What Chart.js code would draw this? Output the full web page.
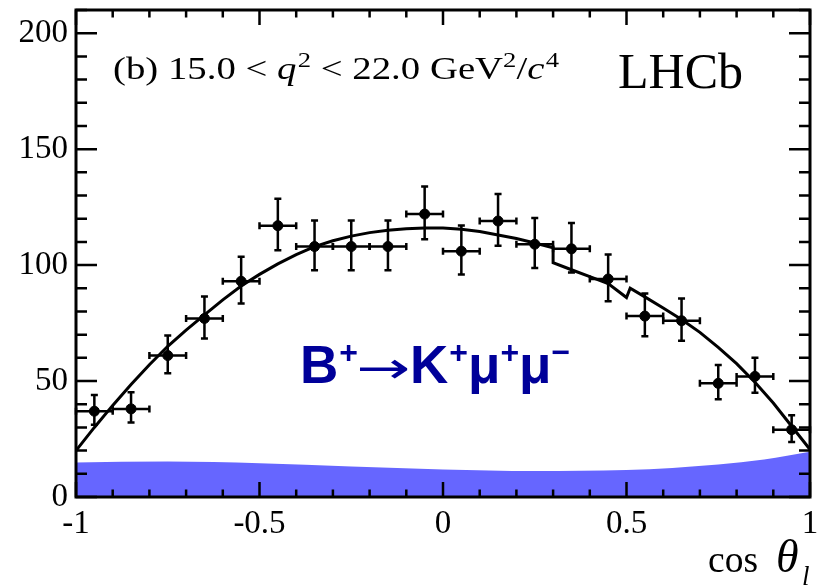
<!DOCTYPE html>
<html>
<head>
<meta charset="utf-8">
<script src="https://cdn.jsdelivr.net/npm/chart.js@4.4.1/dist/chart.umd.min.js"></script>
<style>
  html, body { margin: 0; padding: 0; background: #fff; }
</style>
</head>
<body>
<canvas id="cosThetaChart" width="821" height="587"></canvas>
<script>
// data
const binCentres = [-0.95, -0.85, -0.75, -0.65, -0.55, -0.45, -0.35, -0.25, -0.15, -0.05,
                    0.05, 0.15, 0.25, 0.35, 0.45, 0.55, 0.65, 0.75, 0.85, 0.95];
const binHalfWidth = 0.05;
const counts = [37, 38, 61, 77, 93, 117, 108, 108, 108, 122,
                106, 119, 109, 107, 94, 78, 76, 49, 52, 29];
const errUp = [7.0, 7.2, 8.6, 9.5, 10.6, 11.6, 11.2, 11.2, 11.2, 11.9,
               11.1, 11.7, 11.3, 11.2, 10.6, 9.7, 9.6, 7.9, 8.1, 6.3];
const errDown = [5.8, 5.9, 7.6, 8.6, 9.6, 10.6, 10.2, 10.2, 10.2, 10.9,
                 10.1, 10.7, 10.3, 10.2, 9.6, 8.7, 8.6, 6.9, 7.1, 5.3];

const fitX = [-1, -0.95, -0.9, -0.85, -0.8, -0.75, -0.7, -0.65, -0.6, -0.55, -0.5, -0.45, -0.4,
              -0.35, -0.3, -0.25, -0.2, -0.15, -0.1, -0.05, 0, 0.05, 0.1, 0.15, 0.2, 0.25,
              0.3, 0.3, 0.35, 0.4, 0.45, 0.5, 0.51, 0.55, 0.6, 0.65, 0.7, 0.75, 0.8, 0.85,
              0.9, 0.95, 1];
const fitY = [20, 30, 39.5, 48.5, 57, 65, 72, 78.5, 85, 91, 96, 100.5, 104.5,
              108, 110.5, 112.5, 114, 115, 115.7, 116, 116, 115.5, 114.5, 113, 111.5, 109.5,
              107.5, 101, 98, 95, 92, 86, 90, 86.3, 81.5, 76.5, 71, 64.5, 57.5, 49.5,
              40.5, 30.5, 20.5];

const bkgX = [-1, -0.75, -0.5, -0.25, 0, 0.25, 0.5, 0.75, 0.875, 1];
const bkgY = [14.9, 15.3, 14.6, 13.2, 11.9, 11.2, 11.6, 14.0, 16.2, 19.5];

const xTickValues = [-1, -0.5, 0, 0.5, 1];
const yTickValues = [0, 50, 100, 150, 200];

const serif = '"Liberation Serif", "Times New Roman", serif';
const sans = '"Liberation Sans", Arial, sans-serif';

// draw a list of text runs one after the other; a run may pin its own x
// or be squeezed / stretched to a given width
function drawRuns(ctx, x, y, runs) {
  runs.forEach(r => {
    if (r.x !== undefined) x = r.x;
    ctx.font = r.font;
    const w = ctx.measureText(r.t).width;
    if (r.w) {
      ctx.save();
      ctx.translate(x, y + (r.dy || 0));
      ctx.scale(r.w / w, 1);
      ctx.fillText(r.t, 0, 0);
      ctx.restore();
      x += r.w + (r.gap || 0);
    } else {
      ctx.fillText(r.t, x, y + (r.dy || 0));
      x += w + (r.gap || 0);
    }
  });
  return x;
}

function runsWidth(ctx, runs) {
  let w = 0;
  runs.forEach(r => { ctx.font = r.font; w += ctx.measureText(r.t).width + (r.gap || 0); });
  return w;
}

const decorations = {
  id: "decorations",
  afterDatasetsDraw(chart) {
    const ctx = chart.ctx;
    const xs = chart.scales.x, ys = chart.scales.y;
    const a = chart.chartArea;
    ctx.save();

    // error bars
    ctx.strokeStyle = "#000";
    ctx.lineWidth = 2.5;
    const cap = 3.5;
    binCentres.forEach((c, i) => {
      const px = xs.getPixelForValue(c);
      const py = ys.getPixelForValue(counts[i]);
      const x0 = xs.getPixelForValue(c - binHalfWidth);
      const x1 = xs.getPixelForValue(c + binHalfWidth);
      const yTop = ys.getPixelForValue(counts[i] + errUp[i]);
      const yBot = ys.getPixelForValue(counts[i] - errDown[i]);
      ctx.beginPath();
      ctx.moveTo(x0, py); ctx.lineTo(x1, py);
      ctx.moveTo(x0, py - cap); ctx.lineTo(x0, py + cap);
      ctx.moveTo(x1, py - cap); ctx.lineTo(x1, py + cap);
      ctx.moveTo(px, yTop); ctx.lineTo(px, yBot);
      ctx.moveTo(px - cap, yTop); ctx.lineTo(px + cap, yTop);
      ctx.moveTo(px - cap, yBot); ctx.lineTo(px + cap, yBot);
      ctx.stroke();
    });

    // ticks inside the frame, on all four sides
    ctx.lineWidth = 2.5;
    ctx.beginPath();
    for (let k = -10; k <= 10; k++) {
      const px = xs.getPixelForValue(k / 10);
      const len = (k % 5 === 0) ? 15 : 7.5;
      ctx.moveTo(px, a.bottom); ctx.lineTo(px, a.bottom - len);
      ctx.moveTo(px, a.top); ctx.lineTo(px, a.top + len);
    }
    for (let v = 0; v <= 210; v += 10) {
      const py = ys.getPixelForValue(v);
      const len = (v % 50 === 0) ? 21 : 11;
      ctx.moveTo(a.left, py); ctx.lineTo(a.left + len, py);
      ctx.moveTo(a.right, py); ctx.lineTo(a.right - len, py);
    }
    ctx.stroke();

    // frame
    ctx.lineWidth = 3;
    ctx.strokeRect(a.left, a.top, a.right - a.left, a.bottom - a.top);

    // texts
    ctx.fillStyle = "#000";
    ctx.textBaseline = "alphabetic";
    ctx.textAlign = "left";
    const F = "32px " + serif, I = "italic 32px " + serif, S = "22px " + serif;
    const title = [
      { t: "(b) 15.0 < ", font: F },
      { t: "q", font: I, gap: 1 },
      { t: "2", font: S, dy: -12 },
      { t: " < 22.0 GeV", font: F },
      { t: "2", font: S, dy: -12 },
      { t: "/", font: F },
      { t: "c", font: I, gap: 1 },
      { t: "4", font: S, dy: -12 }
    ];
    // the original title is set wider than the font's natural width
    const stretch = 446 / runsWidth(ctx, title);
    ctx.save();
    ctx.translate(113, 79);
    ctx.scale(stretch, 1);
    drawRuns(ctx, 0, 0, title);
    ctx.restore();

    ctx.font = "50px " + serif;
    ctx.fillText("LHCb", 618, 88);

    ctx.fillStyle = "#000099";
    const B = "bold 53px " + sans, P = "bold 32px " + sans;
    drawRuns(ctx, 300, 383, [
      { t: "B", font: B, gap: 1 },
      { t: "+", font: P, dy: -20 },
      { t: "\u2192", font: '44px "DejaVu Sans", sans-serif', x: 356, w: 54 },
      { t: "K", font: B, gap: 1, x: 410 },
      { t: "+", font: P, dy: -20 },
      { t: "\u03bc", font: B },
      { t: "+", font: P, dy: -20 },
      { t: "\u03bc", font: B },
      { t: "\u2212", font: P, dy: -20 }
    ]);

    ctx.fillStyle = "#000";
    drawRuns(ctx, 708, 572, [
      { t: "cos", font: "37px " + serif, w: 50 },
      { t: "\u03b8", font: "italic 46px " + serif, x: 776 },
      { t: "l", font: "italic 27px " + serif, dy: 13, x: 802 }
    ]);
    ctx.restore();
  }
};

new Chart(document.getElementById("cosThetaChart"), {
  type: "scatter",
  data: {
    datasets: [
      {
        label: "data",
        data: binCentres.map((c, i) => ({ x: c, y: counts[i] })),
        pointRadius: 5,
        pointBackgroundColor: "#000",
        pointBorderColor: "#000",
        showLine: false,
        order: 1
      },
      {
        type: "line",
        label: "fit",
        data: fitX.map((x, i) => ({ x: x, y: fitY[i] })),
        borderColor: "#000",
        borderWidth: 3,
        pointRadius: 0,
        tension: 0,
        fill: false,
        order: 2
      },
      {
        type: "line",
        label: "background",
        data: bkgX.map((x, i) => ({ x: x, y: bkgY[i] })),
        borderWidth: 0,
        borderColor: "rgba(0,0,0,0)",
        backgroundColor: "rgb(102,102,255)",
        pointRadius: 0,
        cubicInterpolationMode: "monotone",
        fill: "origin",
        order: 3
      }
    ]
  },
  options: {
    responsive: false,
    animation: false,
    devicePixelRatio: 1,
    layout: { padding: { top: 10, right: 11, left: 0, bottom: 0 } },
    plugins: { legend: { display: false }, tooltip: { enabled: false } },
    scales: {
      x: {
        type: "linear",
        min: -1,
        max: 1,
        afterBuildTicks: s => { s.ticks = xTickValues.map(v => ({ value: v })); },
        afterFit: s => { s.height = 90; s.paddingLeft = 0; s.paddingRight = 0; },
        grid: { display: false, drawTicks: false },
        border: { display: false },
        ticks: {
          color: "#000",
          padding: 8,
          maxRotation: 0,
          font: { family: serif, size: 33 },
          callback: v => String(v)
        }
      },
      y: {
        min: 0,
        max: 210,
        afterBuildTicks: s => { s.ticks = yTickValues.map(v => ({ value: v })); },
        afterFit: s => { s.width = 76; s.paddingTop = 0; s.paddingBottom = 0; },
        grid: { display: false, drawTicks: false },
        border: { display: false },
        ticks: {
          color: "#000",
          padding: 8,
          font: { family: serif, size: 33 }
        }
      }
    }
  },
  plugins: [decorations]
});
</script>
</body>
</html>
